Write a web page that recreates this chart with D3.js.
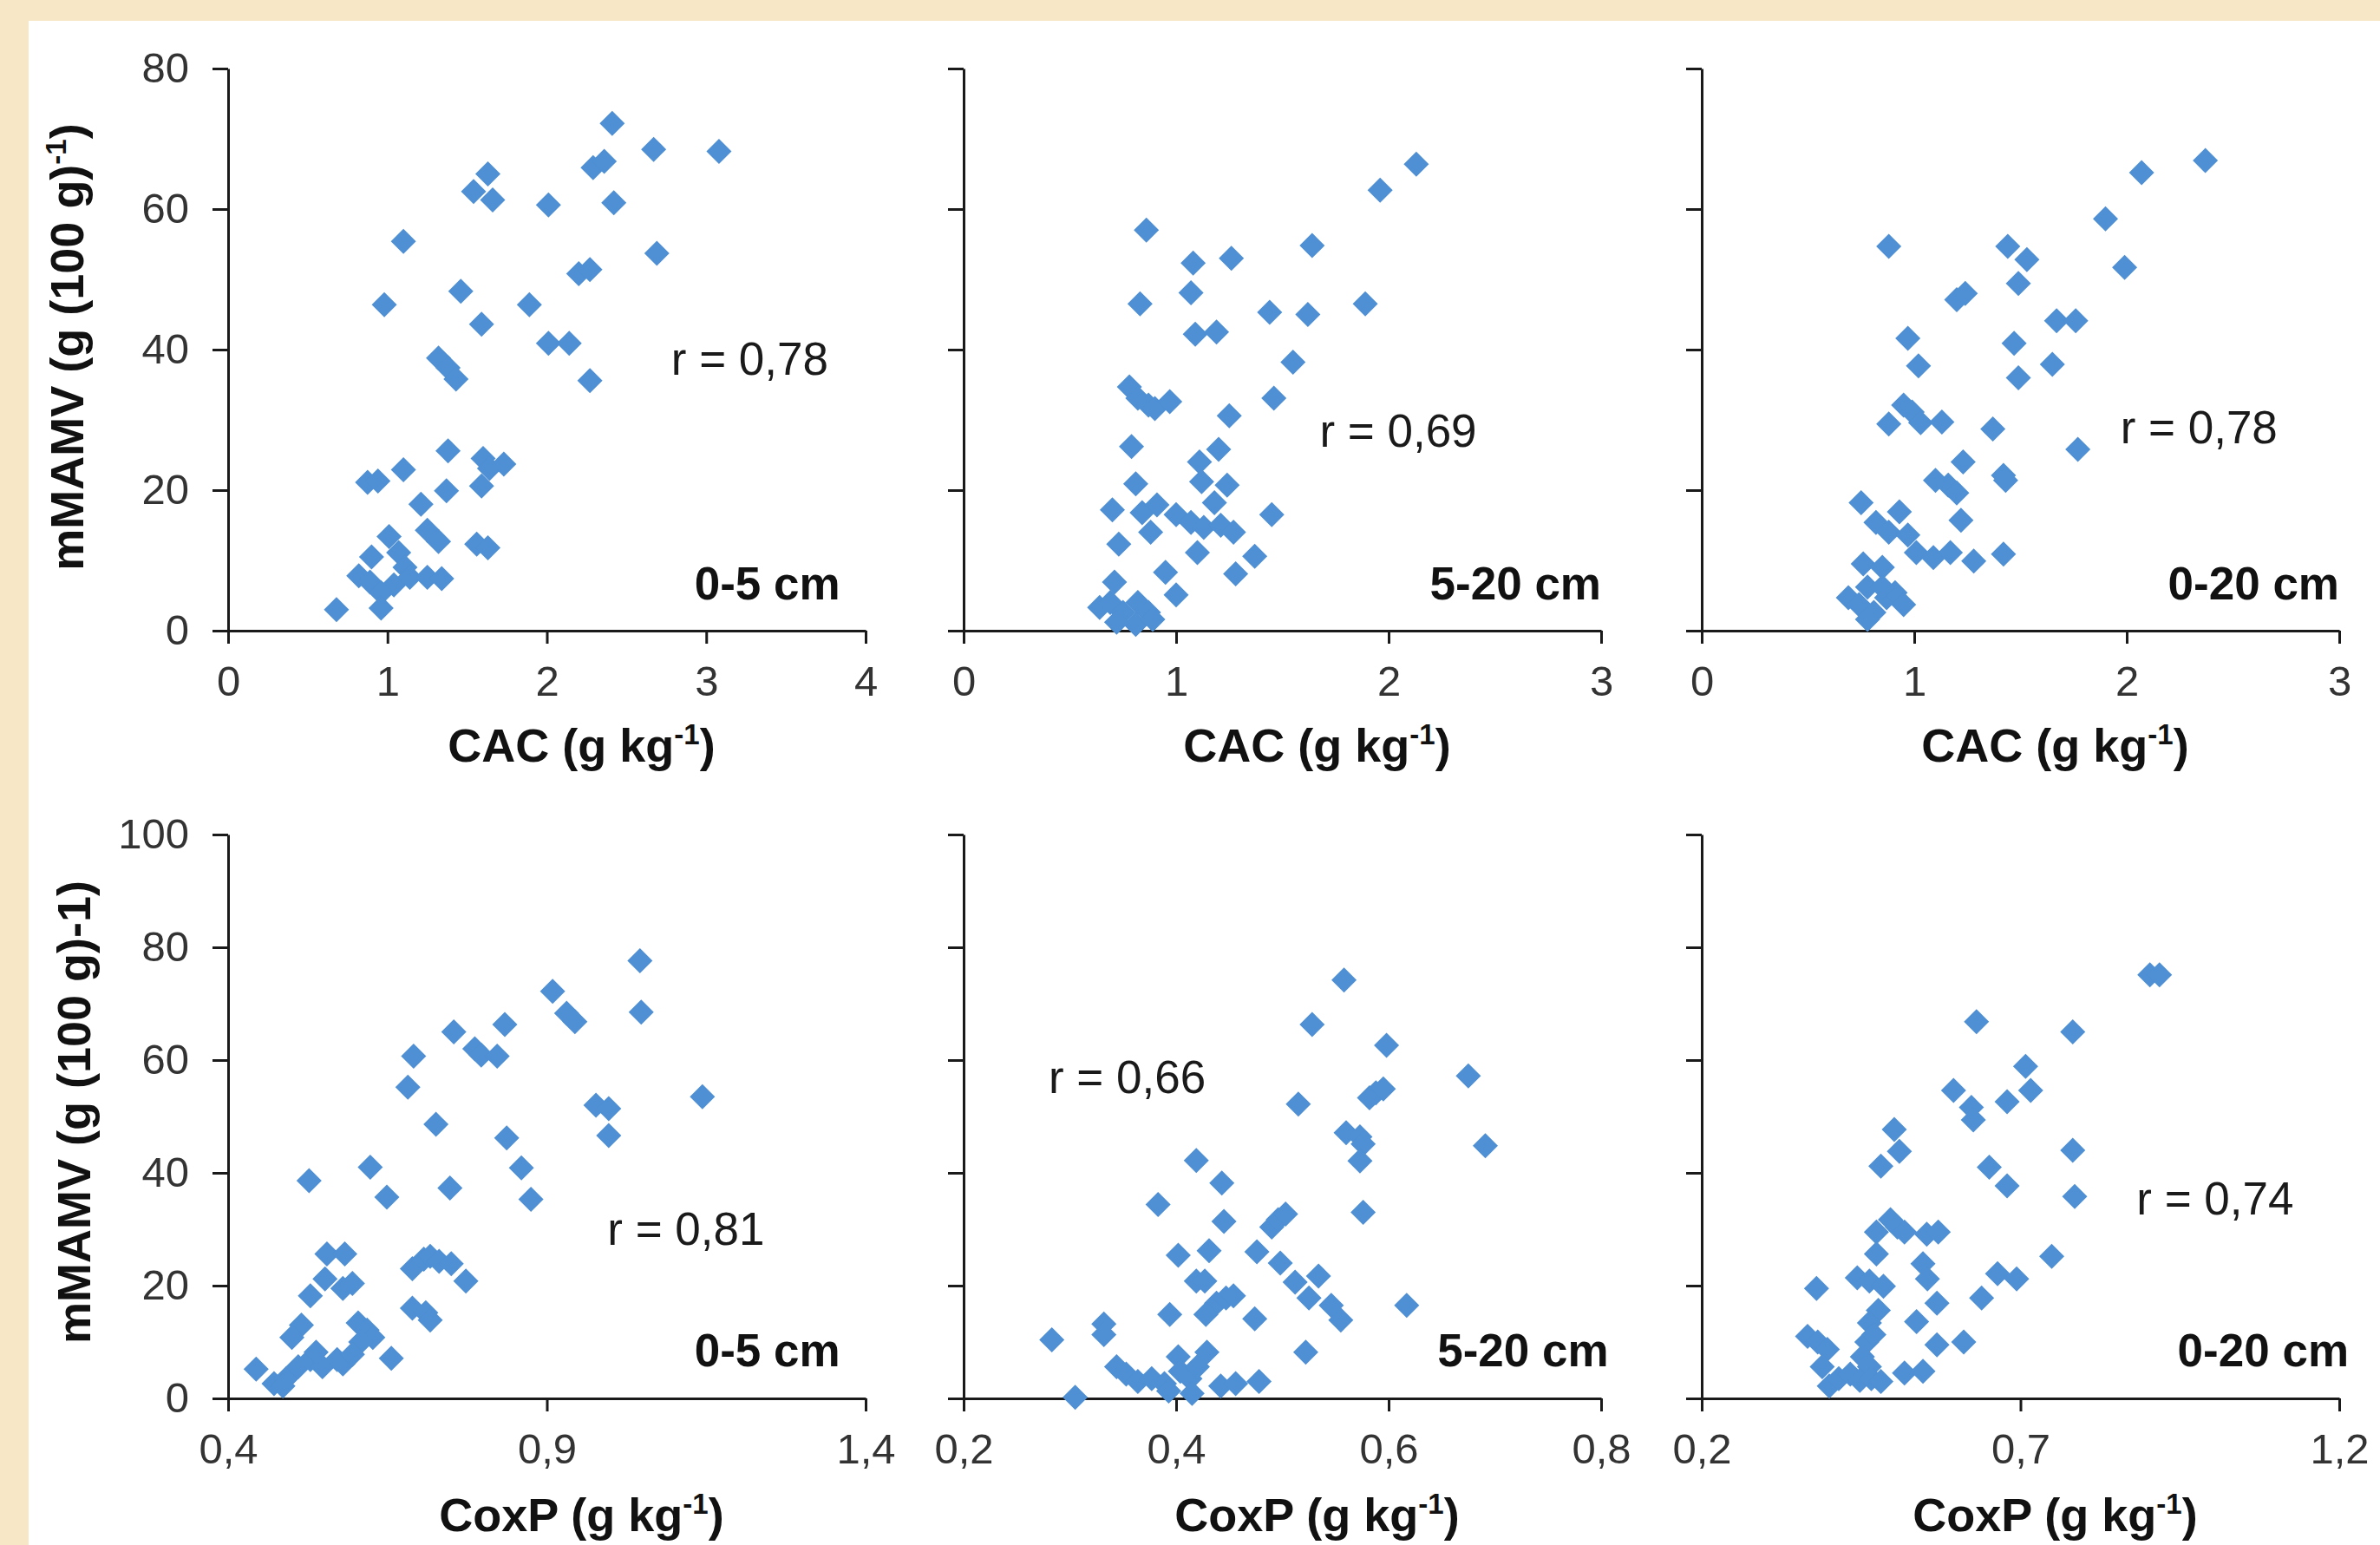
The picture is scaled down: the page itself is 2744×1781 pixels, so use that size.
<!DOCTYPE html>
<html lang="en">
<head>
<meta charset="UTF-8">
<title>mMAMV vs CAC / CoxP</title>
<script src="https://d3js.org/d3.v7.min.js"></script>
<style>
  body { margin: 0; background: #f7e7c6; }
  text { font-family: "Liberation Sans", Arial, sans-serif; }
  .axis path, .axis line { stroke: #1a1a1a; stroke-width: 3px; }
  .axis text { font-size: 49px; fill: #333; }
  .title { font-size: 54px; font-weight: bold; fill: #111; }
  .rlab { font-size: 53px; fill: #1a1a1a; }
  .depth { font-size: 53px; font-weight: bold; fill: #111; }
</style>
</head>
<body>
<div id="chart"></div>
<script>
// DATA - [x, mMAMV]
const cac05 = [[2.41,72.2],[2.67,68.5],[3.08,68.2],[1.63,65.0],[2.29,65.9],[2.36,66.8],[1.54,62.5],[1.66,61.3],[2.01,60.6],[2.42,60.9],[1.10,55.4],[2.69,53.7],[2.20,50.8],[2.27,51.4],[1.46,48.3],[0.98,46.4],[1.89,46.4],[1.59,43.6],[2.01,40.9],[2.14,40.9],[1.32,38.8],[1.38,37.4],[1.43,35.8],[2.27,35.6],[1.38,25.6],[1.60,24.5],[1.64,23.1],[1.73,23.7],[1.10,22.9],[0.875,21.1],[0.94,21.3],[1.59,20.6],[1.37,19.9],[1.21,18.0],[1.25,14.3],[1.32,12.7],[1.56,12.3],[1.63,11.8],[1.01,13.4],[0.90,10.5],[0.82,7.8],[0.89,6.9],[1.07,11.1],[1.11,9.0],[1.04,6.5],[0.96,5.4],[1.14,7.6],[1.25,7.6],[1.34,7.4],[0.96,3.2],[0.68,3.0]];
const cac520 = [[2.13,66.4],[1.96,62.7],[0.86,57.0],[1.64,54.8],[1.08,52.3],[1.26,53.0],[1.07,48.1],[0.83,46.5],[1.89,46.5],[1.44,45.3],[1.62,45.0],[1.09,42.2],[1.19,42.5],[1.55,38.2],[0.78,34.7],[0.82,33.1],[0.87,32.1],[0.90,31.6],[0.97,32.6],[1.46,33.1],[1.25,30.6],[0.79,26.2],[1.20,25.8],[1.11,24.0],[1.12,21.2],[1.24,20.7],[0.81,20.9],[1.18,18.2],[0.70,17.2],[0.84,16.8],[0.91,17.9],[1.0,16.5],[1.07,15.4],[1.13,14.7],[1.21,15.0],[1.27,14.0],[0.88,14.0],[1.45,16.5],[0.73,12.3],[1.10,11.1],[1.37,10.6],[0.95,8.3],[1.28,8.1],[1.0,5.1],[0.71,6.9],[0.64,3.3],[0.69,4.0],[0.75,2.6],[0.82,4.0],[0.87,2.6],[0.81,0.9],[0.89,1.6],[0.72,1.2]];
const cac020 = [[2.37,66.9],[2.07,65.2],[1.90,58.6],[0.88,54.7],[1.44,54.7],[1.53,52.8],[1.99,51.7],[1.49,49.4],[1.20,47.1],[1.24,48.0],[1.67,44.1],[1.76,44.1],[0.97,41.6],[1.47,40.9],[1.02,37.7],[1.65,37.9],[1.49,36.0],[0.95,32.1],[0.99,31.1],[1.03,29.6],[0.88,29.4],[1.13,29.7],[1.37,28.7],[1.77,25.8],[1.23,24.0],[1.10,21.4],[1.16,20.7],[1.20,19.6],[1.42,22.1],[1.43,21.4],[0.75,18.2],[0.93,16.9],[1.22,15.7],[0.82,15.4],[0.88,14.0],[0.97,13.6],[1.01,11.1],[1.09,10.4],[1.17,11.1],[1.28,9.9],[1.42,10.9],[0.76,9.5],[0.85,9.0],[0.69,4.7],[0.74,3.7],[0.78,6.2],[0.81,2.6],[0.87,4.7],[0.91,5.4],[0.95,3.7],[0.78,1.6],[0.85,6.2]];
const coxp05 = [[1.046,77.6],[1.048,68.5],[0.909,72.2],[0.931,68.3],[0.944,66.8],[0.754,65.0],[0.834,66.3],[0.691,60.7],[0.787,62.0],[0.797,60.9],[0.822,60.7],[0.682,55.2],[1.144,53.5],[0.977,52.0],[0.997,51.4],[0.997,46.6],[0.726,48.6],[0.837,46.2],[0.623,41.0],[0.860,40.9],[0.527,38.6],[0.649,35.7],[0.748,37.3],[0.875,35.3],[0.555,25.6],[0.583,25.6],[0.552,21.2],[0.580,19.5],[0.595,20.4],[0.529,18.2],[0.689,23.0],[0.707,24.7],[0.717,25.2],[0.731,24.3],[0.750,23.9],[0.773,20.8],[0.689,16.0],[0.710,15.2],[0.717,13.9],[0.604,13.4],[0.618,12.1],[0.627,10.8],[0.608,10.0],[0.656,7.1],[0.515,13.0],[0.50,10.8],[0.444,5.2],[0.472,2.6],[0.491,3.5],[0.51,5.6],[0.529,6.9],[0.548,5.6],[0.571,6.9],[0.580,6.1],[0.595,7.8],[0.538,8.2],[0.486,2.2]];
const coxp520 = [[0.558,74.2],[0.528,66.3],[0.598,62.6],[0.675,57.2],[0.515,52.2],[0.582,53.3],[0.588,54.2],[0.595,54.9],[0.560,47.1],[0.573,46.4],[0.576,45.1],[0.691,44.8],[0.573,42.1],[0.419,42.2],[0.443,38.2],[0.576,33.0],[0.383,34.4],[0.445,31.4],[0.490,30.4],[0.496,31.7],[0.503,32.7],[0.402,25.4],[0.431,26.2],[0.476,26.0],[0.498,24.0],[0.419,20.8],[0.427,20.8],[0.512,20.6],[0.534,21.7],[0.525,17.8],[0.438,16.9],[0.447,17.8],[0.454,18.2],[0.546,16.5],[0.555,13.9],[0.617,16.5],[0.394,14.9],[0.428,14.9],[0.474,14.1],[0.332,13.2],[0.332,11.3],[0.283,10.4],[0.522,8.2],[0.305,0.2],[0.344,5.6],[0.353,4.3],[0.364,3.0],[0.377,3.5],[0.389,2.6],[0.402,7.4],[0.404,4.8],[0.413,3.5],[0.415,0.9],[0.420,5.6],[0.429,8.2],[0.442,2.2],[0.456,2.6],[0.478,3.0],[0.393,1.3]];
const coxp020 = [[0.903,75.1],[0.918,75.1],[0.631,66.8],[0.782,65.0],[0.708,58.9],[0.716,54.6],[0.595,54.6],[0.679,52.6],[0.623,51.6],[0.626,49.4],[0.502,47.7],[0.510,43.8],[0.481,41.2],[0.782,44.0],[0.651,41.0],[0.679,37.7],[0.785,35.8],[0.474,29.5],[0.496,31.7],[0.507,30.4],[0.518,29.5],[0.553,29.1],[0.571,29.5],[0.749,25.2],[0.474,25.6],[0.547,23.9],[0.554,21.2],[0.444,21.4],[0.463,20.8],[0.485,19.9],[0.664,22.1],[0.694,21.2],[0.380,19.5],[0.639,17.8],[0.569,16.9],[0.477,15.6],[0.463,13.4],[0.537,13.6],[0.366,11.0],[0.382,10.0],[0.397,8.7],[0.569,9.5],[0.611,10.0],[0.459,10.0],[0.470,11.3],[0.389,5.6],[0.452,7.4],[0.463,5.6],[0.518,4.5],[0.547,4.8],[0.400,2.2],[0.415,3.5],[0.433,4.3],[0.448,3.2],[0.466,3.5],[0.481,3.0]];

// tick values
const cacTicks4 = [0, 1, 2, 3, 4];
const cacTicks3 = [0, 1, 2, 3];
const topYTicks = [0, 20, 40, 60, 80];
const coxpTicks05 = [0.4, 0.9, 1.4];
const coxpTicks520 = [0.2, 0.4, 0.6, 0.8];
const coxpTicks020 = [0.2, 0.7, 1.2];
const botYTicks = [0, 20, 40, 60, 80, 100];

// r values and depth labels
const rLabels = ["r = 0,78", "r = 0,69", "r = 0,78", "r = 0,81", "r = 0,66", "r = 0,74"];
const depths = ["0-5 cm", "5-20 cm", "0-20 cm", "0-5 cm", "5-20 cm", "0-20 cm"];

// 1. LAYOUT
const W = 2744, H = 1781;
const colX = [263, 1111, 1962];
const pw = 735;
const rows = [{ top: 79, bottom: 727 }, { top: 962, bottom: 1612 }];
const blue = "#4f8fd3";

const panels = [
  { data: cac05, col: 0, row: 0, ticks: cacTicks4, yTicks: topYTicks, yLab: true, rAt: [2.78, 36.4], dAt: [3.84, 4.4], xVar: "CAC" },
  { data: cac520, col: 1, row: 0, ticks: cacTicks3, yTicks: topYTicks, yLab: false, rAt: [1.675, 26.2], dAt: [3.0, 4.4], xVar: "CAC" },
  { data: cac020, col: 2, row: 0, ticks: cacTicks3, yTicks: topYTicks, yLab: false, rAt: [1.97, 26.7], dAt: [3.0, 4.4], xVar: "CAC" },
  { data: coxp05, col: 0, row: 1, ticks: coxpTicks05, yTicks: botYTicks, yLab: true, rAt: [0.995, 27.2], dAt: [1.36, 5.7], xVar: "CoxP" },
  { data: coxp520, col: 1, row: 1, ticks: coxpTicks520, yTicks: botYTicks, yLab: false, rAt: [0.28, 54.2], dAt: [0.807, 5.7], xVar: "CoxP" },
  { data: coxp020, col: 2, row: 1, ticks: coxpTicks020, yTicks: botYTicks, yLab: false, rAt: [0.882, 32.6], dAt: [1.215, 5.7], xVar: "CoxP" }
];

const svg = d3.select("#chart").append("svg")
  .attr("width", W).attr("height", H);

svg.append("rect").attr("width", W).attr("height", H).attr("fill", "#f7e7c6");
svg.append("rect").attr("x", 33).attr("y", 24).attr("width", W - 33).attr("height", H - 24).attr("fill", "#fff");

const comma = d => String(d).replace(".", ",");
const diamond = "M0,-14.5L14.5,0L0,14.5L-14.5,0Z";

// 2. DRAWING
panels.forEach((p, i) => {
  const r = rows[p.row];
  const x = d3.scaleLinear()
    .domain(d3.extent(p.ticks))
    .range([colX[p.col], colX[p.col] + pw]);
  const y = d3.scaleLinear()
    .domain(d3.extent(p.yTicks))
    .range([r.bottom, r.top]);

  const g = svg.append("g");

  g.append("g")
    .attr("class", "axis")
    .attr("transform", "translate(0," + r.bottom + ")")
    .call(d3.axisBottom(x).tickValues(p.ticks).tickSize(15).tickSizeOuter(0).tickPadding(25).tickFormat(comma));

  g.append("g")
    .attr("class", "axis")
    .attr("transform", "translate(" + colX[p.col] + ",0)")
    .call(d3.axisLeft(y).tickValues(p.yTicks).tickSize(18).tickSizeOuter(0).tickPadding(27)
      .tickFormat(p.yLab ? d => d : ""));

  g.selectAll(".axis .domain").attr("fill", "none");

  g.selectAll("path.pt")
    .data(p.data)
    .enter().append("path")
    .attr("class", "pt")
    .attr("d", diamond)
    .attr("fill", blue)
    .attr("transform", d => "translate(" + x(d[0]) + "," + y(d[1]) + ")");

  g.append("text")
    .attr("class", "rlab")
    .attr("x", x(p.rAt[0])).attr("y", y(p.rAt[1]))
    .text(rLabels[i]);

  g.append("text")
    .attr("class", "depth")
    .attr("text-anchor", "end")
    .attr("x", x(p.dAt[0])).attr("y", y(p.dAt[1]))
    .text(depths[i]);

  // x axis title with superscript
  const tx = colX[p.col] + pw / 2 + 40;
  const ty = p.row === 0 ? 878 : 1765;
  const t = g.append("text").attr("class", "title")
    .attr("text-anchor", "middle")
    .attr("x", tx).attr("y", ty);
  t.append("tspan").text(p.xVar + " (g kg");
  t.append("tspan").attr("font-size", 33).attr("dy", -20).text("-1");
  t.append("tspan").attr("dy", 20).text(")");
});

// y axis titles
const yt1 = svg.append("text").attr("class", "title")
  .attr("text-anchor", "middle")
  .attr("transform", "translate(96,400) rotate(-90)");
yt1.append("tspan").text("mMAMV (g (100 g)");
yt1.append("tspan").attr("font-size", 33).attr("dy", -20).text("-1");
yt1.append("tspan").attr("dy", 20).text(")");

svg.append("text").attr("class", "title")
  .attr("text-anchor", "middle")
  .attr("transform", "translate(104,1282) rotate(-90)")
  .text("mMAMV (g (100 g)-1)");
</script>
</body>
</html>
